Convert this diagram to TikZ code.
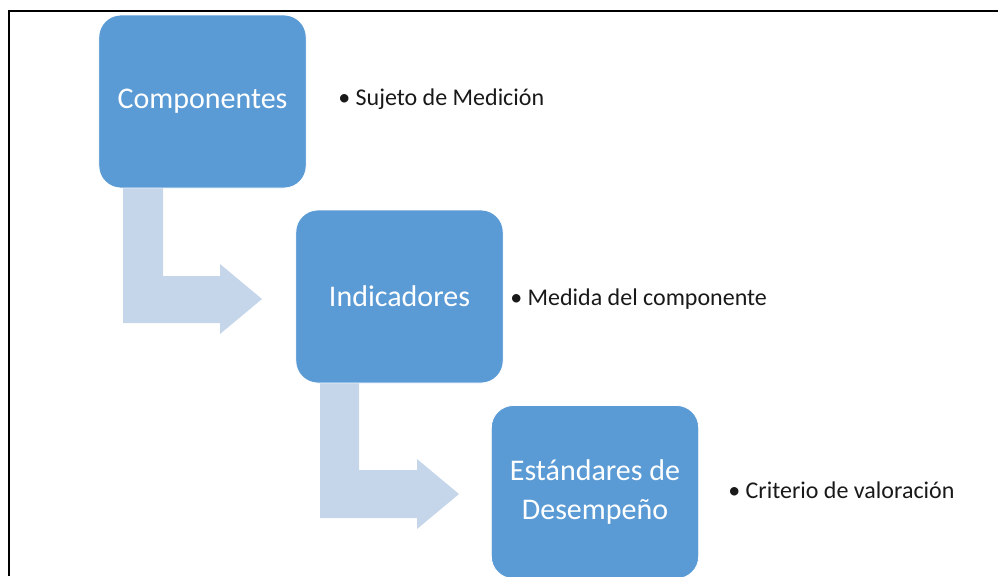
\documentclass[tikz,border=0pt]{standalone}
\usepackage{fontspec}
\setmainfont{Carlito}
\usetikzlibrary{backgrounds}
\definecolor{boxblue}{HTML}{5B9BD5}
\definecolor{arrowblue}{HTML}{C5D5EA}
\tikzset{
  px/.style={x=0.75pt,y=-0.75pt},
  stagebox/.style={rectangle, rounded corners=16.5pt, fill=boxblue, draw=white, line width=0.6pt,
    minimum width=155.5pt, minimum height=129.75pt, inner sep=0pt, text=white, align=center,
    font=\fontsize{22.5}{29}\selectfont},
  bullettext/.style={anchor=west, inner sep=0pt, text=black!90, font=\fontsize{18}{22}\selectfont},
  bendarrow/.style={fill=arrowblue, draw=none},
}
\begin{document}
\begin{tikzpicture}[px]
\useasboundingbox (0,0) rectangle (998,576);
\draw[black, line width=1.4pt] (9,576) -- (9,11) -- (998,11);
% arrows
\path[bendarrow] (123,188) -- (163,188) -- (163,276) -- (220,276) -- (220,264) -- (262,299) -- (220,334) -- (220,323) -- (123,323) -- cycle;
\path[bendarrow] (320,383) -- (359,383) -- (359,470) -- (417,470) -- (417,459) -- (459,494) -- (417,529) -- (417,518) -- (320,518) -- cycle;
% boxes
\node[stagebox] (b1) at (202.5,101.5) {\raisebox{-2pt}{Componentes}};
\node[stagebox] (b2) at (399.5,296.5) {\raisebox{-1pt}{Indicadores}};
\node[stagebox] (b3) at (595,492) {Estándares de\\Desempeño};
% bullets
\node[bullettext] (t1) at (338,99) {\textbullet\ Sujeto de Medición};
\node[bullettext] (t2) at (510,299) {\textbullet\ Medida del componente};
\node[bullettext] (t3) at (728,490) {\textbullet\ Criterio de valoración};
\end{tikzpicture}
\end{document}
